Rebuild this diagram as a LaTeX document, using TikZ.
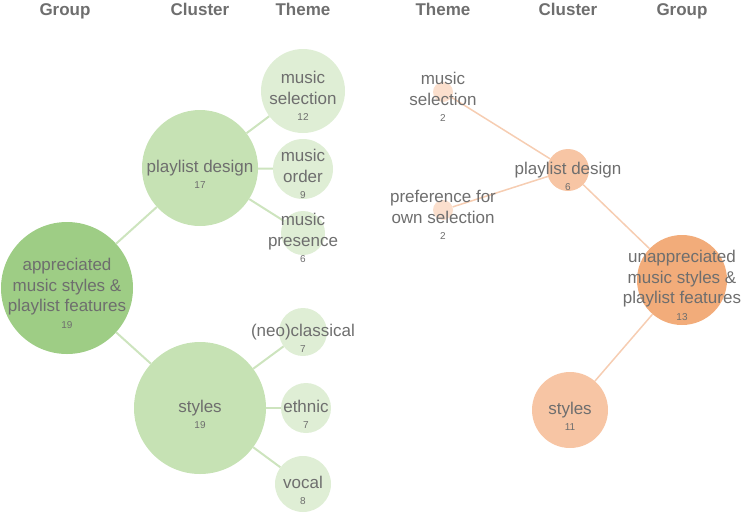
\documentclass[tikz,border=0pt]{standalone}
\usepackage{fontspec}
\setmainfont{Liberation Sans}
\usetikzlibrary{positioning}
\definecolor{txtgray}{RGB}{110,110,110}
\definecolor{grpG}{RGB}{158,205,133}
\definecolor{cluG}{RGB}{198,226,180}
\definecolor{thmG}{RGB}{223,238,213}
\definecolor{lnG}{RGB}{205,228,190}
\definecolor{grpO}{RGB}{242,172,122}
\definecolor{cluO}{RGB}{247,197,164}
\definecolor{thmO}{RGB}{251,223,205}
\definecolor{lnO}{RGB}{246,205,178}

\begin{document}
\begin{tikzpicture}[x=1pt,y=-1pt,label distance=3pt,
 bub/.style={circle,inner sep=0pt,minimum size=#1},
 lbl/.style={text=txtgray,align=center,inner sep=0pt,font=\fontsize{17}{20.5}\selectfont,
  execute at begin node=\strut,execute at end node=\strut},
 num/.style={text=txtgray,inner sep=0pt,font=\fontsize{10}{10}\selectfont},
 hd/.style={text=txtgray,anchor=base,font=\bfseries\fontsize{17}{20}\selectfont},
 lg/.style={draw=lnG,line width=2pt},
 lo/.style={draw=lnO,line width=1.5pt}]
\useasboundingbox (0,0) rectangle (742,512);
% column heads
\node[hd] (h1) at (65,15) {Group};
\node[hd] (h2) at (200,15) {Cluster};
\node[hd] (h3) at (303,15) {Theme};
\node[hd] (h4) at (443,15) {Theme};
\node[hd] (h5) at (568,15) {Cluster};
\node[hd] (h6) at (682,15) {Group};
% appreciated side
\node[bub=132,fill=grpG] (ga) at (67,288) {};
\node[bub=116,fill=cluG] (pa) at (200,168) {};
\node[bub=132,fill=cluG] (sa) at (200,408) {};
\node[bub=84,fill=thmG] (msa) at (303,91) {};
\node[bub=60,fill=thmG] (moa) at (303,169) {};
\node[bub=44,fill=thmG] (mpa) at (303,233) {};
\node[bub=48,fill=thmG] (nca) at (303,332) {};
\node[bub=50,fill=thmG] (eta) at (306,408) {};
\node[bub=56,fill=thmG] (voa) at (303,484) {};
\draw[lg] (ga)--(pa); \draw[lg] (ga)--(sa);
\draw[lg] (pa)--(msa); \draw[lg] (pa)--(moa); \draw[lg] (pa)--(mpa);
\draw[lg] (sa)--(nca); \draw[lg] (sa)--(eta); \draw[lg] (sa)--(voa);
% unappreciated side
\node[bub=20,fill=thmO] (msu) at (443,92) {};
\node[bub=20,fill=thmO] (pfu) at (443,210) {};
\node[bub=42,fill=cluO] (pu) at (568,170) {};
\node[bub=76,fill=cluO] (su) at (570,410) {};
\node[bub=90,fill=grpO] (gu) at (682,280) {};
\draw[lo] (msu)--(pu); \draw[lo] (pfu)--(pu);
\draw[lo] (pu)--(gu); \draw[lo] (gu)--(su);
% texts
\node[lbl,label={[num]below:19}] (tga) at (ga) {appreciated\\music styles \&\\playlist features};
\node[lbl,label={[num]below:17}] (tpa) at (pa) {playlist design};
\node[lbl,label={[num]below:19}] (tsa) at (sa) {styles};
\node[lbl,label={[num]below:12}] (tmsa) at (msa) {music\\selection};
\node[lbl,label={[num]below:9}] (tmoa) at (moa) {music\\order};
\node[lbl,label={[num]below:6}] (tmpa) at (mpa) {music\\presence};
\node[lbl,label={[num]below:7}] (tnca) at (nca) {(neo)classical};
\node[lbl,label={[num]below:7}] (teta) at (eta) {ethnic};
\node[lbl,label={[num]below:8}] (tvoa) at (voa) {vocal};
\node[lbl,label={[num]below:2}] (tmsu) at (msu) {music\\selection};
\node[lbl,label={[num]below:2}] (tpfu) at (pfu) {preference for\\own selection};
\node[lbl,label={[num]below:6}] (tpu) at (pu) {playlist design};
\node[lbl,label={[num]below:11}] (tsu) at (su) {styles};
\node[lbl,label={[num]below:13}] (tgu) at (gu) {unappreciated\\music styles \&\\playlist features};
\end{tikzpicture}
\end{document}
